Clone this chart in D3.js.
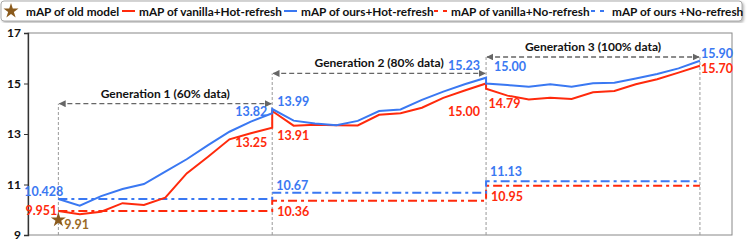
<!DOCTYPE html>
<html>
<head>
<meta charset="utf-8">
<script src="https://cdn.jsdelivr.net/npm/d3@7"></script>
<style>
  body { margin: 0; background: #fff; }
  text { font-family: "Lato", "Liberation Sans", sans-serif; font-weight: bold; }
</style>
</head>
<body>
<div id="chart"></div>
<script>
// ---- data ----
var generations = ["Generation 1 (60% data)", "Generation 2 (80% data)", "Generation 3 (100% data)"];
var stepsPerGen = 10;

var oursHot = [
    [10.428, 10.16, 10.54, 10.82, 11.02, 11.51, 12.00, 12.56, 13.09, 13.49, 13.82],
    [13.99, 13.53, 13.42, 13.35, 13.52, 13.91, 13.97, 14.35, 14.68, 14.97, 15.23],
    [15.00, 14.94, 14.87, 14.97, 14.87, 15.01, 15.03, 15.20, 15.38, 15.60, 15.90]
];
var vanillaHot = [
    [9.951, 9.82, 9.92, 10.26, 10.19, 10.48, 11.44, 12.10, 12.79, 13.03, 13.25],
    [13.91, 13.33, 13.37, 13.35, 13.34, 13.76, 13.82, 14.04, 14.43, 14.72, 15.00],
    [14.79, 14.52, 14.37, 14.44, 14.39, 14.65, 14.70, 14.97, 15.17, 15.43, 15.70]
];
var oursNo = [10.428, 10.67, 11.13];
var vanillaNo = [9.951, 10.36, 10.95];
var oldModel = 9.91, oldModelPlot = 9.6;

var yTicks = [9, 11, 13, 15, 17];
var legendItems = ["mAP of old model", "mAP of vanilla+Hot-refresh", "mAP of ours+Hot-refresh",
                   "mAP of vanilla+No-refresh", "mAP of ours +No-refresh"];

var red = "#ff2a0c", blue = "#3a78f2", brown = "#8a5a1c";

// ---- layout ----
var W = 747, H = 241;
var margin = {top: 33, right: 15, bottom: 6, left: 28},
    width = W - margin.left - margin.right,
    height = H - margin.top - margin.bottom;

var svg = d3.select("#chart").append("svg")
    .attr("width", W)
    .attr("height", H);

var defs = svg.append("defs");
defs.append("filter").attr("id", "shadow")
    .append("feDropShadow")
    .attr("dx", 1.5).attr("dy", 1.5).attr("stdDeviation", 1)
    .attr("flood-color", "#888").attr("flood-opacity", 0.6);
defs.append("marker")
    .attr("id", "arrow")
    .attr("viewBox", "0 0 10 10")
    .attr("refX", 9).attr("refY", 5)
    .attr("markerWidth", 7).attr("markerHeight", 7)
    .attr("markerUnits", "userSpaceOnUse")
    .attr("orient", "auto-start-reverse")
    .append("path")
    .attr("d", "M0,0L10,5L0,10z")
    .attr("fill", "#666");

var g = svg.append("g")
    .attr("transform", "translate(" + margin.left + "," + margin.top + ")");

var x = d3.scaleLinear()
    .domain([-1.42, 31.5])
    .range([0, width]);

var y = d3.scaleLinear()
    .domain([9, 17])
    .range([height, 0]);

// frame
g.append("rect")
    .attr("width", width).attr("height", height)
    .attr("fill", "none").attr("stroke", "#888").attr("stroke-width", 1);

// y axis
var yAxis = d3.axisLeft(y).tickValues(yTicks).tickSize(4).tickPadding(3);
var ya = g.append("g").attr("class", "y axis").call(yAxis);
ya.select(".domain").attr("stroke", "#333").attr("stroke-width", 1.3);
ya.selectAll(".tick line").attr("stroke", "#333");
ya.selectAll("text").style("font-size", "12px").attr("fill", "#111");

// generation boundaries + arrows
var arrowY = [14.2, 15.4, 16.05];
var bounds = d3.range(generations.length + 1).map(function(i) { return i * stepsPerGen; });

bounds.forEach(function(b, i) {
    var top = i < generations.length ? arrowY[i] : arrowY[i - 1];
    g.append("line")
        .attr("x1", x(b)).attr("x2", x(b))
        .attr("y1", height).attr("y2", y(top))
        .attr("stroke", "#999").attr("stroke-width", 1)
        .attr("stroke-dasharray", "3,2");
});

generations.forEach(function(name, i) {
    var x0 = x(i * stepsPerGen), x1 = x((i + 1) * stepsPerGen);
    g.append("line")
        .attr("x1", x0 + 1).attr("x2", x1 - 1)
        .attr("y1", y(arrowY[i])).attr("y2", y(arrowY[i]))
        .attr("stroke", "#666").attr("stroke-width", 1.3)
        .attr("stroke-dasharray", "5,3")
        .attr("marker-start", "url(#arrow)")
        .attr("marker-end", "url(#arrow)");
    g.append("text")
        .attr("x", (x0 + x1) / 2)
        .attr("y", y(arrowY[i]) - 6)
        .attr("text-anchor", "middle")
        .style("font-size", "12px")
        .attr("fill", "#111")
        .text(name);
});

// lines
function flatten(series) {
    var pts = [];
    series.forEach(function(gen, gi) {
        gen.forEach(function(v, i) { pts.push([gi * stepsPerGen + i, v]); });
    });
    return pts;
}
function steps(vals) {
    var pts = [];
    vals.forEach(function(v, gi) {
        pts.push([gi * stepsPerGen, v]);
        pts.push([(gi + 1) * stepsPerGen, v]);
    });
    return pts;
}

var line = d3.line()
    .x(function(d) { return x(d[0]); })
    .y(function(d) { return y(d[1]); });

g.append("path").datum(steps(vanillaNo))
    .attr("d", line).attr("fill", "none")
    .attr("stroke", red).attr("stroke-width", 2)
    .attr("stroke-dasharray", "9,4,3,4");
g.append("path").datum(steps(oursNo))
    .attr("d", line).attr("fill", "none")
    .attr("stroke", blue).attr("stroke-width", 2)
    .attr("stroke-dasharray", "9,4,3,4");
g.append("path").datum(flatten(vanillaHot))
    .attr("d", line).attr("fill", "none")
    .attr("stroke", red).attr("stroke-width", 2);
g.append("path").datum(flatten(oursHot))
    .attr("d", line).attr("fill", "none")
    .attr("stroke", blue).attr("stroke-width", 2);

// old model star
g.append("path")
    .attr("d", d3.symbol().type(d3.symbolStar).size(70))
    .attr("transform", "translate(" + x(0) + "," + y(oldModelPlot) + ")")
    .attr("fill", brown);

// value labels: [text, x index, value, color, anchor, dx, dy]
var labels = [
    [oursNo[0].toFixed(3), 0, oursNo[0], blue, "end", 5, -3],
    [vanillaNo[0].toFixed(3), 0, vanillaNo[0], red, "end", -1, 4],
    [oldModel.toFixed(2), 0, oldModelPlot, "#9a6a26", "start", 6, 9],
    [oursHot[0][10].toFixed(2), 10, oursHot[0][10], blue, "end", -5, 3],
    [vanillaHot[0][10].toFixed(2), 10, vanillaHot[0][10], red, "end", -5, 19],
    [oursHot[1][0].toFixed(2), 10, oursHot[1][0], blue, "start", 5, -3],
    [vanillaHot[1][0].toFixed(2), 10, vanillaHot[1][0], red, "start", 5, 29],
    [oursHot[1][10].toFixed(2), 20, oursHot[1][10], blue, "end", -6, -8],
    [vanillaHot[1][10].toFixed(2), 20, vanillaHot[1][10], red, "end", -6, 32],
    [oursHot[2][0].toFixed(2), 20, oursHot[2][0], blue, "start", 8, -13],
    [vanillaHot[2][0].toFixed(2), 20, vanillaHot[2][0], red, "start", 2.5, 19],
    [oursHot[2][10].toFixed(2), 30, oursHot[2][10], blue, "start", 1, -3],
    [vanillaHot[2][10].toFixed(2), 30, vanillaHot[2][10], red, "start", 1, 7],
    [oursNo[1].toFixed(2), 10, oursNo[1], blue, "start", 4, -3],
    [vanillaNo[1].toFixed(2), 10, vanillaNo[1], red, "start", 5, 15],
    [oursNo[2].toFixed(2), 20, oursNo[2], blue, "start", 4, -5],
    [vanillaNo[2].toFixed(2), 20, vanillaNo[2], red, "start", 5, 15]
];

g.selectAll(".vlabel")
    .data(labels)
    .enter().append("text")
    .attr("class", "vlabel")
    .attr("x", function(d) { return x(d[1]) + d[5]; })
    .attr("y", function(d) { return y(d[2]) + d[6]; })
    .attr("text-anchor", function(d) { return d[4]; })
    .attr("fill", function(d) { return d[3]; })
    .style("font-size", "12.5px")
    .text(function(d) { return d[0]; });

// ---- legend ----
var legend = svg.append("g").attr("transform", "translate(1,1)");
legend.append("rect")
    .attr("width", 741).attr("height", 20).attr("rx", 3)
    .attr("fill", "#fff").attr("stroke", "#aaa")
    .attr("filter", "url(#shadow)");

var legendX = [25, 138, 300, 450, 611];
var iconX = [10, 121, 283, 433, 590];

legend.append("path")
    .attr("d", d3.symbol().type(d3.symbolStar).size(70))
    .attr("transform", "translate(" + iconX[0] + ",10)")
    .attr("fill", brown);

var iconStyle = [null, [red, null], [blue, null], [red, "4,5"], [blue, "4,5"]];
iconStyle.forEach(function(s, i) {
    if (!s) return;
    legend.append("line")
        .attr("x1", iconX[i]).attr("x2", iconX[i] + 13)
        .attr("y1", 10).attr("y2", 10)
        .attr("stroke", s[0]).attr("stroke-width", 2)
        .attr("stroke-dasharray", s[1]);
});

legend.selectAll(".ltext")
    .data(legendItems)
    .enter().append("text")
    .attr("class", "ltext")
    .attr("x", function(d, i) { return legendX[i]; })
    .attr("y", 14.5)
    .style("font-size", "11.8px")
    .attr("fill", "#111")
    .text(function(d) { return d; });
</script>
</body>
</html>
